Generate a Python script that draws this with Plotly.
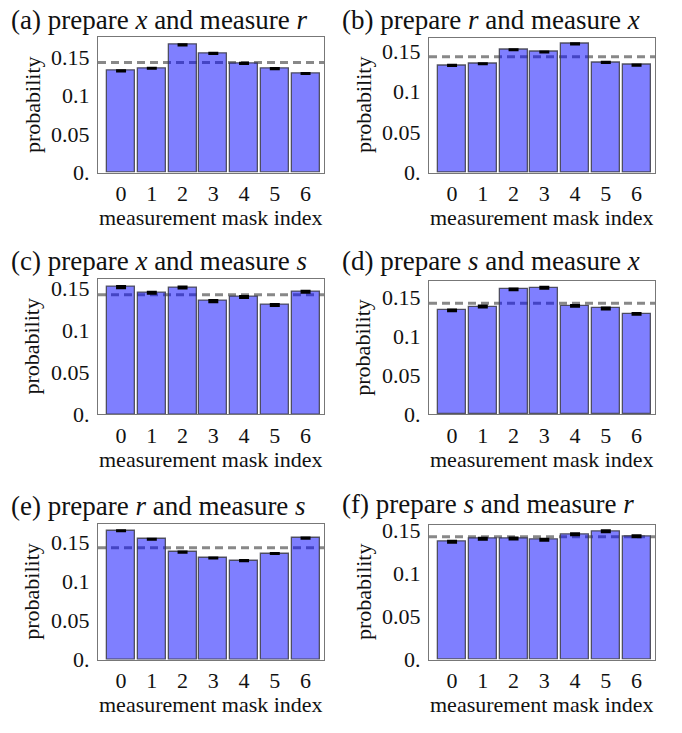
import plotly.graph_objects as go

# ---- data ----
mask_index = [0, 1, 2, 3, 4, 5, 6]
tick_vals = [0, 0.05, 0.1, 0.15]
tick_text = ["0.", "0.05", "0.1", "0.15"]
uniform_level = 1 / 7

titles = [
    "(a) prepare <i>x</i> and measure <i>r</i>",
    "(b) prepare <i>r</i> and measure <i>x</i>",
    "(c) prepare <i>x</i> and measure <i>s</i>",
    "(d) prepare <i>s</i> and measure <i>x</i>",
    "(e) prepare <i>r</i> and measure <i>s</i>",
    "(f) prepare <i>s</i> and measure <i>r</i>",
]

prob_a = [0.1320, 0.1353, 0.1656, 0.1547, 0.1417, 0.1349, 0.1286]
prob_b = [0.1323, 0.1343, 0.1516, 0.1488, 0.1589, 0.1359, 0.1327]
prob_c = [0.1518, 0.1452, 0.1514, 0.1351, 0.1401, 0.1305, 0.1463]
prob_d = [0.1337, 0.1387, 0.1607, 0.1628, 0.1395, 0.1362, 0.1292]
prob_e = [0.1644, 0.1536, 0.1371, 0.1296, 0.1263, 0.1354, 0.1549]
prob_f = [0.1372, 0.1406, 0.1410, 0.1395, 0.1459, 0.1493, 0.1436]

err_a = [0.0006] * 7
err_b = [0.0006] * 7
err_c = [0.0011] * 7
err_d = [0.0011] * 7
err_e = [0.0006] * 7
err_f = [0.0011] * 7

probs = [prob_a, prob_b, prob_c, prob_d, prob_e, prob_f]
errs = [err_a, err_b, err_c, err_d, err_e, err_f]

# ---- layout (pixels) ----
W, H = 682, 733
y_tops = [0.1753, 0.1665, 0.1618, 0.1715, 0.1731, 0.1572]
frames = [  # (left, right, top, bottom) in px
    (98, 324, 32.3, 171),
    (429, 655, 32.5, 171),
    (98, 324, 280, 419.3),
    (429, 655, 282.3, 419.3),
    (98, 324, 531.7, 671),
    (429, 655, 532.3, 671),
]
title_pos = [(9, 14), (340, 14), (9, 262), (340, 262), (9, 513), (340, 511)]

FONT = "Liberation Serif"

fig = go.Figure()
annotations = []
shapes = []

for i in range(6):
    l, r, t, b = frames[i]
    ax = "" if i == 0 else str(i + 1)
    fig.add_trace(go.Bar(
        x=mask_index, y=probs[i],
        width=0.91,
        marker=dict(color="rgba(0,0,255,0.5)",
                    line=dict(color="rgba(60,60,70,0.85)", width=1.3)),
        error_y=dict(type="data", array=errs[i], visible=True,
                     color="black", thickness=2.2, width=5),
        xaxis="x" + ax, yaxis="y" + ax, showlegend=False,
    ))
    xdom = [l / W, r / W]
    ydom = [1 - b / H, 1 - t / H]
    fig.layout["xaxis" + ax] = dict(
        domain=xdom, anchor="y" + ax, range=[-0.75, 6.6],
        tickvals=mask_index, ticktext=[str(v) for v in mask_index],
        showline=True, linecolor="#777", linewidth=1, mirror=True,
        showgrid=False, zeroline=False, ticks="",
        ticklabelstandoff=1,
        tickfont=dict(family=FONT, size=22, color="#111"),
    )
    fig.layout["yaxis" + ax] = dict(
        domain=ydom, anchor="x" + ax, range=[0, y_tops[i]],
        tickvals=tick_vals, ticktext=tick_text,
        showline=True, linecolor="#777", linewidth=1, mirror=True,
        showgrid=False, zeroline=False, ticks="",
        ticklabelstandoff=3,
        tickfont=dict(family=FONT, size=22, color="#111"),
    )
    shapes.append(dict(
        type="line", xref="x" + ax + " domain", yref="y" + ax,
        x0=0, x1=1, y0=uniform_level, y1=uniform_level,
        line=dict(color="#888", width=3, dash="8px,5px"), layer="below",
    ))
    tx, ty = title_pos[i]
    annotations.append(dict(
        text=titles[i], x=tx / W, y=1 - ty / H, xref="paper", yref="paper",
        xanchor="left", yanchor="middle", showarrow=False,
        font=dict(family=FONT, size=27, color="#111"),
    ))
    annotations.append(dict(
        text="measurement mask index", x=(l + r) / 2 / W, y=1 - (b + 46) / H,
        xref="paper", yref="paper", xanchor="center", yanchor="middle",
        showarrow=False, font=dict(family=FONT, size=22, color="#111"),
    ))
    annotations.append(dict(
        text="probability", x=(l - 66) / W, y=1 - (t + b) / 2 / H,
        xref="paper", yref="paper", xanchor="center", yanchor="middle",
        textangle=-90, showarrow=False,
        font=dict(family=FONT, size=22, color="#111"),
    ))

fig.update_layout(
    width=W, height=H, margin=dict(l=0, r=0, t=0, b=0),
    paper_bgcolor="white", plot_bgcolor="white",
    annotations=annotations, shapes=shapes, bargap=0,
)

fig.write_html(
    "out.html",
    config={"displayModeBar": False},
    post_script="document.body.style.margin='0';document.body.style.overflow='hidden';",
)
